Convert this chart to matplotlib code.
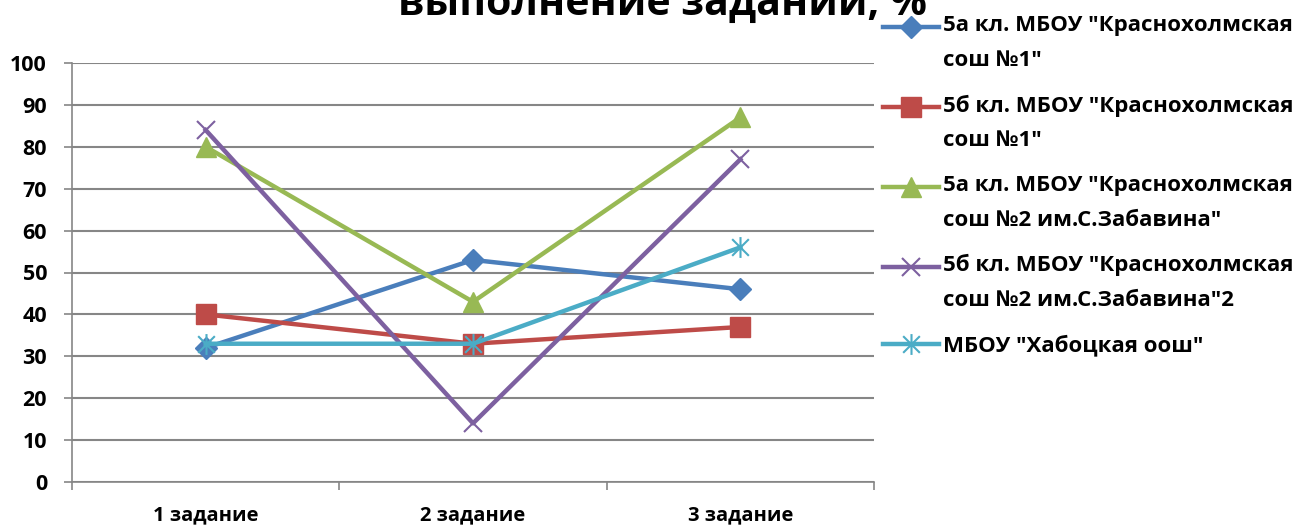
import numpy as np
import matplotlib.pyplot as plt
from matplotlib.path import Path
from matplotlib.legend_handler import HandlerLine2D

plt.rcParams['font.family'] = ['Open Sans', 'DejaVu Sans']

# ---------------- data ----------------
tasks = ['1 задание', '2 задание', '3 задание']
s_5a_kh1 = [32, 53, 46]
s_5b_kh1 = [40, 33, 37]
s_5a_kh2 = [80, 43, 87]
s_5b_kh2 = [84, 14, 77]
s_hab = [33, 33, 56]

labels = ['5а кл. МБОУ "Краснохолмская\nсош №1"',
          '5б кл. МБОУ "Краснохолмская\nсош №1"',
          '5а кл. МБОУ "Краснохолмская\nсош №2 им.С.Забавина"',
          '5б кл. МБОУ "Краснохолмская\nсош №2 им.С.Забавина"2',
          'МБОУ "Хабоцкая оош"']

title_text = 'выполнение заданий, %'

# star marker (x + vertical bar) like excel
star = Path([(-1, -1), (1, 1), (-1, 1), (1, -1), (0, -1.25), (0, 1.25)],
            [Path.MOVETO, Path.LINETO, Path.MOVETO, Path.LINETO, Path.MOVETO, Path.LINETO])

series = [
    (s_5a_kh1, '#4A7EBB', 'D', 11, {}),
    (s_5b_kh1, '#BE4B48', 's', 14, {}),
    (s_5a_kh2, '#98B954', '^', 15, {}),
    (s_5b_kh2, '#7D60A0', 'x', 13, {'markeredgewidth': 1.5}),
    (s_hab, '#4BACC6', star, 15, {'markeredgewidth': 1.5}),
]


class ShiftedLine(HandlerLine2D):
    # moves legend handle up so it sits on first text line
    def __init__(self, dy=0, **kw):
        super().__init__(**kw)
        self.dy = dy

    def create_artists(self, legend, orig_handle, xdescent, ydescent, width, height, fontsize, trans):
        arts = super().create_artists(legend, orig_handle, xdescent, ydescent, width, height, fontsize, trans)
        for a in arts:
            a.set_ydata(np.asarray(a.get_ydata(), dtype=float) + self.dy)
        return arts


fig = plt.figure(figsize=(13.01, 5.26), dpi=100)
ax = fig.add_axes([72 / 1301, 1 - 482 / 526, (874 - 72) / 1301, (482 - 63) / 526])

x = np.arange(len(tasks))
handles = []
for vals, col, mk, ms, kw in series:
    h, = ax.plot(x, vals, color=col, lw=3.2, marker=mk, markersize=ms,
                 markerfacecolor=col, markeredgecolor=col, **kw)
    handles.append(h)

ax.set_xlim(-0.5, 2.5)
ax.set_ylim(0, 100)
ax.set_yticks(range(0, 101, 10))
ax.set_xticks(x)
ax.set_xticklabels(tasks, fontsize=14.5, fontweight='bold')
ax.set_xticks([-0.5, 0.5, 1.5, 2.5], minor=True)
ax.tick_params(axis='x', which='major', length=0, pad=17)
ax.tick_params(axis='x', which='minor', length=6, color='#868686', width=1.2)
ax.tick_params(axis='y', length=6, color='#868686', width=1.2, pad=12)
for lab in ax.get_yticklabels():
    lab.set_fontsize(15.5)
    lab.set_fontweight('bold')

ax.grid(axis='y', color='#868686', lw=1.5)
ax.set_axisbelow(True)
for sp in ['top', 'right']:
    ax.spines[sp].set_visible(False)
ax.spines['left'].set_color('#868686')
ax.spines['bottom'].set_color('#868686')
ax.spines['left'].set_linewidth(1.2)
ax.spines['bottom'].set_linewidth(1.2)

# title: only lower part visible, top is cut by the figure edge
fig.text(662 / 1301, 1 - 15 / 526, title_text, ha='center', va='baseline',
         fontsize=29.5, fontweight='bold')

hmap = {h: ShiftedLine(dy=11.5) for h in handles[:4]}
leg = fig.legend(handles, labels, loc='upper left', bbox_to_anchor=(883 / 1301, 1 - 15 / 526),
                 frameon=False, prop={'size': 16, 'weight': 'bold'}, handlelength=2.5,
                 handletextpad=0.18, labelspacing=1.07, borderaxespad=0, borderpad=0,
                 handler_map=hmap)
for t in leg.get_texts():
    t.set_linespacing(1.85)

fig.savefig('out.png', dpi=100)
